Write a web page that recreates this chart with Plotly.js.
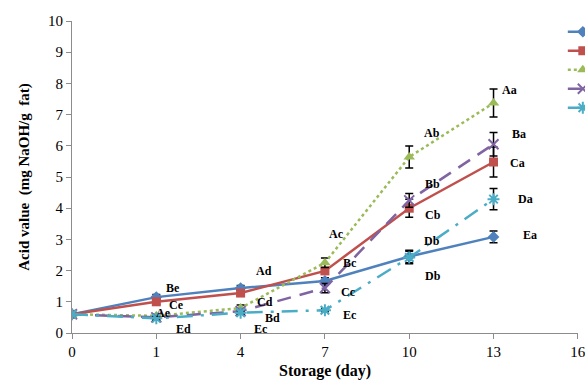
<!DOCTYPE html>
<html>
<head>
<meta charset="utf-8">
<script src="https://cdn.plot.ly/plotly-3.0.1.min.js"></script>
<style>html,body{margin:0;padding:0;overflow:hidden;background:#fff}#chart{width:585px;height:380px}</style>
</head>
<body>
<div id="chart"></div>
<script>
// Storage days (categories, equally spaced)
const days = ["0", "1", "4", "7", "10", "13", "16"];
const measuredDays = ["0", "1", "4", "7", "10", "13"];

// Series names (legend text is cut off in the reference)
const seriesNames = ["Control", "T1", "T2", "T3", "T4"];

// Acid value (mg NaOH/g fat)
const blueVals   = [0.60, 1.15, 1.44, 1.67, 2.45, 3.08];
const redVals    = [0.60, 1.00, 1.28, 1.99, 4.00, 5.48];
const greenVals  = [0.60, 0.55, 0.80, 2.25, 5.64, 7.37];
const purpleVals = [0.60, 0.50, 0.70, 1.44, 4.25, 6.05];
const cyanVals   = [0.60, 0.47, 0.65, 0.73, 2.42, 4.29];

// Standard deviations (error bars)
const blueErr   = [0, 0.08, 0.08, 0.10, 0.20, 0.19];
const redErr    = [0, 0.08, 0.08, 0.10, 0.29, 0.48];
const greenErr  = [0, 0.05, 0.10, 0.15, 0.35, 0.45];
const purpleErr = [0, 0.05, 0.05, 0.15, 0.22, 0.38];
const cyanErr   = [0, 0.05, 0.05, 0.05, 0.20, 0.34];

// Significance letters: [text, day position (category index), acid value]
const letterTexts = ["Be","Ce","Ae","Ed","Ad","Cd","Bd","Ec","Ac","Bc","Cc","Ec","Ab","Bb","Cb","Db","Db","Aa","Ba","Ca","Da","Ea"];
const letterX = [1.20,1.24,1.08,1.32,2.28,2.29,2.38,2.24,3.14,3.30,3.28,3.30,4.27,4.28,4.28,4.27,4.28,5.19,5.30,5.29,5.38,5.43];
const letterY = [1.44,0.90,0.64,0.13,1.99,0.99,0.48,0.13,3.17,2.24,1.31,0.58,6.41,4.78,3.78,2.95,1.83,7.79,6.38,5.45,4.29,3.14];

const xIdx = measuredDays.map(d => days.indexOf(d));

function series(name, vals, err, color, dash, symbol, msize, open) {
  return {
    type: "scatter", mode: "lines+markers", name: name,
    x: xIdx, y: vals,
    line: {color: color, width: 2.5, dash: dash},
    marker: {symbol: symbol, size: msize, color: color, line: {color: color, width: open ? 2 : 0}},
    error_y: {type: "data", array: err, visible: true, color: "#000", thickness: 1.5, width: 4}
  };
}

const traces = [
  series(seriesNames[0], blueVals, blueErr, "#4F81BD", "solid", "diamond", 9, false),
  series(seriesNames[1], redVals, redErr, "#C0504D", "solid", "square", 9, false),
  series(seriesNames[2], greenVals, greenErr, "#9BBB59", "dot", "triangle-up", 10, false),
  series(seriesNames[3], purpleVals, purpleErr, "#8064A2", "14px,9px", "x-thin-open", 10, true),
  series(seriesNames[4], cyanVals, cyanErr, "#4BACC6", "16px,8px,3px,8px", "asterisk-open", 10, true)
];

const serif = "Liberation Serif, Times New Roman, serif";
const annFont = {family: serif, size: 12, color: "#000"};
const annotations = letterTexts.map((t, i) => ({
  x: letterX[i], y: letterY[i], xref: "x", yref: "y",
  text: "<b>" + t + "</b>", showarrow: false, font: annFont
}));

const axisFont = {family: serif, size: 15, color: "#000"};

const layout = {
  width: 585, height: 380,
  margin: {l: 72, r: 7, t: 21, b: 47, autoexpand: false},
  paper_bgcolor: "#fff", plot_bgcolor: "#fff",
  showlegend: true,
  legend: {x: 0.97, xanchor: "left", y: 1.012, yanchor: "top", bgcolor: "rgba(0,0,0,0)",
           font: {family: serif, size: 12, color: "#000"}, tracegroupgap: 0, itemwidth: 30},
  xaxis: {
    range: [0, 6.002], tickmode: "array",
    tickvals: days.map((d, i) => i), ticktext: days,
    ticklabeloverflow: "allow",
    showgrid: false, zeroline: false, showline: true, linecolor: "#8c8c8c", linewidth: 1,
    ticks: "outside", ticklen: 5, tickcolor: "#8c8c8c",
    tickfont: axisFont,
    title: {text: "<b>Storage (day)</b>", font: {family: serif, size: 16, color: "#000"}, standoff: 6}
  },
  yaxis: {
    range: [0, 10], dtick: 1,
    showgrid: false, zeroline: false, showline: true, linecolor: "#8c8c8c", linewidth: 1,
    ticks: "outside", ticklen: 5, tickcolor: "#8c8c8c",
    tickfont: axisFont,
    title: {text: "<b>Acid value  (mg NaOH/g  fat)</b>", font: {family: serif, size: 15, color: "#000"}, standoff: 14}
  },
  annotations: annotations
};

Plotly.newPlot("chart", traces, layout, {displayModeBar: false, staticPlot: true});
</script>
</body>
</html>
